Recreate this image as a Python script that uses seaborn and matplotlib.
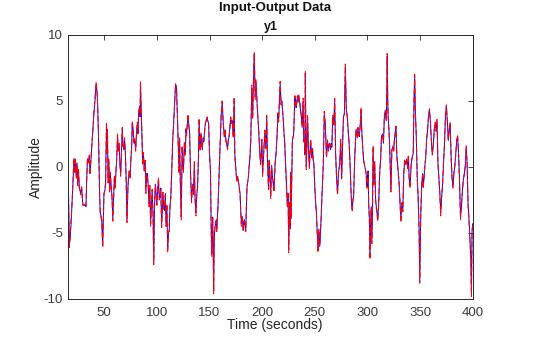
import numpy as np
import pandas as pd
import matplotlib
matplotlib.use("Agg")
import matplotlib.pyplot as plt
import seaborn as sns

# Sample times (s)
time_s = [
    16.0, 16.8, 17.5, 18.5, 19.5, 20.7, 21.3, 22.0, 22.7, 23.4,
    24.1, 24.8, 25.5, 26.3, 27.5, 28.5, 29.6, 30.6, 31.6, 32.6,
    33.2, 34.0, 35.0, 35.8, 36.5, 37.7, 39.0, 40.1, 41.2, 42.2,
    43.0, 43.7, 44.6, 45.5, 46.1, 47.6, 48.5, 49.7, 50.6, 51.3,
    52.1, 52.6, 53.0, 53.6, 54.3, 55.1, 55.8, 56.6, 57.3, 58.1,
    59.6, 60.3, 61.1, 61.8, 62.6, 63.3, 64.1, 64.8, 65.6, 66.3,
    67.1, 67.8, 68.6, 69.3, 70.1, 70.8, 71.6, 72.5, 73.7, 74.5,
    75.4, 76.0, 76.6, 77.5, 78.2, 79.0, 79.8, 80.6, 81.4, 82.0,
    82.6, 83.5, 84.0, 84.4, 85.0, 85.6, 86.5, 87.2, 88.0, 88.8,
    89.5, 90.2, 91.0, 91.8, 92.5, 93.3, 94.0, 94.8, 95.5, 96.3,
    97.0, 97.7, 98.5, 99.2, 100.0, 100.8, 101.5, 102.2, 103.0, 103.7,
    104.5, 105.7, 106.4, 107.2, 108.0, 108.7, 109.5, 110.2, 111.0, 111.7,
    112.4, 113.2, 114.1, 115.0, 116.2, 117.0, 117.7, 118.6, 119.2, 120.1,
    121.0, 121.6, 122.2, 123.1, 124.0, 124.6, 125.2, 126.1, 127.0, 127.6,
    128.1, 128.9, 129.6, 130.3, 131.1, 132.0, 132.9, 133.5, 134.1, 134.8,
    135.6, 136.2, 137.1, 137.8, 138.6, 139.4, 140.1, 141.0, 141.9, 142.5,
    143.1, 143.8, 144.6, 145.3, 146.1, 147.0, 147.6, 148.4, 149.1, 150.0,
    150.9, 151.5, 152.1, 152.6, 153.0, 153.5, 153.9, 154.5, 155.1, 155.7,
    156.3, 156.9, 157.5, 158.1, 158.8, 159.6, 160.4, 161.1, 162.0, 162.9,
    163.5, 164.1, 164.8, 165.6, 166.4, 167.1, 167.8, 168.6, 169.3, 170.1,
    170.8, 171.6, 172.5, 173.4, 174.0, 175.1, 176.0, 176.8, 177.5, 178.3,
    179.0, 179.6, 180.2, 181.1, 182.0, 182.6, 183.2, 183.8, 184.4, 185.0,
    185.6, 186.8, 187.4, 188.0, 188.6, 189.2, 190.1, 191.0, 191.9, 192.5,
    193.4, 194.0, 194.6, 195.2, 195.8, 196.4, 197.0, 197.7, 198.5, 199.7,
    200.4, 201.3, 202.5, 203.5, 204.3, 205.1, 206.0, 206.6, 207.3, 208.1,
    209.0, 209.6, 210.2, 211.2, 212.3, 213.2, 214.1, 215.0, 215.6, 216.2,
    217.1, 218.0, 218.6, 219.2, 220.1, 220.7, 221.3, 222.2, 223.1, 224.0,
    224.6, 225.2, 226.0, 226.5, 227.0, 227.5, 228.1, 228.7, 229.9, 230.5,
    231.1, 231.7, 232.3, 232.9, 233.5, 234.1, 234.7, 235.3, 235.9, 236.5,
    237.1, 238.0, 238.9, 239.5, 240.1, 240.6, 241.0, 241.5, 241.9, 242.5,
    243.1, 244.0, 244.9, 245.5, 246.1, 247.0, 247.9, 248.5, 249.1, 250.0,
    250.9, 251.5, 252.1, 253.0, 253.9, 254.5, 255.1, 256.0, 256.9, 257.5,
    258.1, 259.0, 259.9, 260.5, 261.1, 262.0, 262.9, 263.5, 264.1, 265.0,
    265.6, 266.2, 267.1, 268.0, 268.9, 269.8, 270.7, 271.6, 272.5, 273.7,
    274.6, 275.5, 276.3, 277.2, 278.1, 279.0, 279.9, 280.8, 281.7, 282.6,
    283.5, 284.4, 285.0, 285.6, 286.2, 286.8, 287.4, 288.0, 289.2, 290.4,
    291.0, 291.6, 292.2, 292.8, 293.4, 294.0, 294.6, 295.2, 296.4, 297.6,
    298.8, 299.4, 300.0, 300.6, 301.2, 301.8, 302.4, 303.0, 303.6, 304.2,
    304.8, 305.4, 306.0, 306.9, 307.8, 308.9, 309.8, 310.7, 311.6, 312.5,
    313.4, 314.3, 315.2, 316.1, 317.0, 317.9, 318.4, 318.8, 319.3, 319.7,
    320.5, 321.4, 322.3, 323.2, 324.1, 325.0, 325.6, 326.2, 327.1, 328.0,
    329.2, 330.1, 331.0, 331.8, 332.7, 333.6, 334.5, 335.4, 336.3, 337.2,
    338.1, 338.9, 339.6, 340.5, 341.1, 341.7, 342.6, 343.5, 344.3, 344.9,
    345.5, 346.4, 347.3, 348.2, 349.1, 349.7, 350.2, 350.6, 351.5, 352.4,
    353.0, 353.6, 354.5, 355.4, 356.2, 357.1, 358.0, 358.9, 359.8, 360.7,
    361.6, 362.5, 363.4, 364.3, 365.2, 366.1, 367.0, 367.9, 368.8, 369.6,
    370.5, 371.4, 372.3, 373.2, 374.1, 375.0, 375.9, 376.8, 377.7, 378.6,
    379.5, 380.4, 381.3, 382.1, 383.0, 383.9, 384.8, 385.7, 386.6, 387.5,
    388.4, 389.3, 390.2, 391.1, 392.0, 392.9, 393.8, 394.7, 395.6, 396.4,
    397.3, 398.2, 398.8, 399.4, 400.0,
]

# Measured output y1 (blue, solid)
measured = [
    -2.0, -5.9, -5.5, -4.2, -2.5, -0.3, 0.6, -0.4, 0.4, -0.8,
    0.3, -1.2, -0.3, -1.5, -2.0, -1.6, -2.8, -2.9, -2.9, -3.0,
    -1.3, 0.6, 0.4, 0.8, -0.5, 1.0, 2.5, 4.0, 5.0, 6.3,
    5.8, 4.8, 2.0, -1.8, -3.4, -4.0, -6.0, -2.0, -1.8, -1.0,
    3.3, 1.2, 2.8, -1.0, 0.5, -1.8, -0.6, -1.5, -2.2, -3.9,
    -0.8, -1.5, -0.3, 0.6, 2.3, 1.3, 1.7, 0.3, -0.5, 1.0,
    2.9, 1.6, 1.3, 2.0, 1.0, -1.0, -4.0, -1.5, -0.3, -0.8,
    0.8, 1.5, 3.3, 2.8, 1.8, 2.0, 1.3, 2.5, 3.3, 2.6,
    4.0, 4.6, 3.8, 6.3, 4.5, 2.8, 0.3, 1.0, -0.3, 0.4,
    -1.8, -0.6, -0.5, -1.6, -2.8, -1.5, -4.3, -3.0, -1.8, -3.5,
    -7.2, -3.0, -1.3, -2.0, -2.8, -1.6, -1.0, -2.3, -2.3, -1.6,
    -4.4, -2.0, -3.0, -3.3, -2.0, -4.3, -3.0, -6.3, -5.0, -4.8,
    -3.0, -2.3, -0.3, 2.0, 3.8, 5.0, 6.2, 6.1, 4.5, 2.3,
    -0.3, 2.0, -1.0, -3.8, 1.5, 0.3, -0.3, 1.8, 1.0, 2.8,
    2.5, 3.2, 3.9, 3.2, 2.5, -0.5, -2.5, -1.8, -1.3, -2.0,
    0.3, -2.3, -3.5, -2.2, -1.5, 0.5, 3.5, 1.3, 2.5, 1.8,
    1.3, 2.2, 1.9, 2.8, 3.3, 3.6, 3.7, 3.5, 3.3, 1.0,
    -0.3, -4.3, -6.6, -4.8, -3.8, -6.5, -9.4, -5.3, -4.6, -4.3,
    -4.0, -4.8, -3.8, -2.8, -1.2, 0.8, 2.5, 4.0, 4.9, 3.5,
    2.8, 2.3, 2.8, 2.0, 1.7, 1.4, 2.0, 2.3, 3.0, 3.7,
    3.4, 3.5, 2.3, 5.1, 1.0, -0.3, -1.0, -0.8, -1.1, -1.6,
    -2.0, -3.2, -4.3, -3.8, -4.8, -4.2, -4.0, -4.5, -4.8, -3.0,
    -1.5, -0.8, -0.2, 0.3, 1.0, 2.0, 6.0, 3.8, 7.1, 8.6,
    5.3, 6.5, 5.8, 4.8, 4.0, 3.2, 2.3, 1.0, 0.3, 2.0,
    -0.5, 0.8, 2.6, 1.5, 3.8, 0.3, -1.5, 0.5, -0.5, -2.2,
    0.0, -0.6, -1.0, -1.8, 0.3, 1.0, 2.3, 4.0, 3.5, 4.7,
    6.3, 4.8, 5.0, 4.5, 3.5, 2.6, 2.0, 0.3, -1.5, -3.0,
    -2.0, -6.3, -2.8, -4.5, -0.5, -3.8, -1.0, 2.0, 2.5, 3.8,
    5.3, 4.6, 4.5, 5.0, 5.3, 5.0, 5.4, 5.0, 4.8, 4.2,
    4.0, 3.0, 5.0, 2.0, 2.0, 1.0, 7.1, 2.5, 0.0, 1.6,
    3.8, 1.3, 0.0, 1.2, 2.0, 0.8, 1.3, 0.5, 0.3, -1.5,
    -2.8, -3.4, -4.5, -6.3, -4.8, -6.0, -5.6, -3.8, -2.0, -1.0,
    0.3, 4.0, 3.3, 2.0, 0.8, 2.0, 1.3, 1.6, 1.8, 1.3,
    1.8, 1.5, 3.8, 3.3, 5.0, 1.0, -0.8, -2.0, -0.5, 0.3,
    2.0, -0.8, 1.5, 3.8, 4.0, 7.6, 4.5, 3.8, 2.8, 1.8,
    0.3, -1.8, -2.8, -3.3, -2.5, -2.3, -0.8, 0.8, 2.8, 2.3,
    2.9, 2.5, 2.3, 2.8, 3.5, 4.4, 2.8, 1.8, 0.5, 0.0,
    -0.5, -1.5, -1.3, -0.3, -2.8, -3.8, -6.8, -4.5, -3.0, -5.6,
    -3.5, 1.5, -1.3, 0.3, -2.5, -3.3, -4.0, -2.8, -0.5, 0.5,
    2.3, 2.5, 1.8, 3.8, 4.3, 3.5, 5.5, 8.4, 5.0, 3.8,
    2.8, 0.8, -1.8, 1.3, 1.5, 1.3, 2.0, 2.5, 3.0, 0.8,
    -0.3, -1.3, -2.8, -4.0, -2.8, -3.3, -0.5, 0.5, 0.3, 0.5,
    0.0, 0.8, -0.8, -1.5, -0.5, 0.3, 0.8, 1.0, 5.3, 6.8,
    4.3, 2.3, -0.8, -2.3, -4.8, -8.6, -6.0, -3.8, -1.5, -0.5,
    -1.5, -1.0, 0.0, 0.8, 2.0, 2.8, 3.8, 4.3, 3.5, 2.0,
    1.0, 1.5, 2.8, 3.3, 2.8, 3.5, 0.3, -0.8, -2.0, -3.5,
    -2.3, -1.3, 0.3, 1.8, 3.8, 4.6, 3.5, 2.0, 2.8, 3.3,
    0.8, -0.8, -1.5, -0.5, 0.0, 1.0, 2.0, 2.3, 1.0, -1.0,
    -3.8, -3.0, -1.8, -1.0, -0.5, 0.0, 1.5, 0.3, -2.8, -3.8,
    -5.3, -6.8, -9.6, -4.8, -4.3,
]

# Simulated model output (red, dashed)
simulated = [
    -2.2, -6.1, -5.3, -4.0, -2.6, -0.1, 0.7, -0.5, 0.6, -0.9,
    0.2, -1.4, -0.2, -1.6, -2.1, -1.5, -2.9, -2.9, -2.8, -3.0,
    -1.2, 0.7, 0.3, 0.9, -0.6, 1.1, 2.6, 4.1, 5.2, 6.4,
    5.9, 4.6, 2.1, -1.9, -3.5, -4.1, -6.1, -2.1, -1.7, -1.2,
    3.4, 1.0, 2.9, -1.2, 0.6, -1.9, -0.4, -1.6, -2.3, -4.1,
    -0.7, -1.6, -0.2, 0.5, 2.5, 1.2, 1.8, 0.2, -0.7, 1.1,
    3.0, 1.4, 1.4, 2.2, 0.9, -1.2, -4.2, -1.4, -0.2, -0.9,
    0.9, 1.4, 3.5, 2.6, 1.9, 2.2, 1.2, 2.6, 3.4, 2.5,
    4.2, 4.5, 3.9, 6.5, 4.3, 2.9, 0.1, 1.1, -0.4, 0.5,
    -2.0, -0.5, -0.7, -1.5, -3.0, -1.4, -4.5, -2.9, -1.7, -3.7,
    -7.4, -2.8, -1.4, -2.1, -2.9, -1.5, -0.8, -2.5, -2.2, -1.7,
    -4.6, -1.9, -3.2, -3.1, -2.1, -4.5, -2.8, -6.5, -4.9, -4.9,
    -2.9, -2.4, -0.1, 2.1, 3.7, 5.1, 6.3, 6.0, 4.6, 2.2,
    -0.5, 2.2, -1.2, -4.0, 1.6, 0.2, -0.4, 1.9, 0.9, 2.9,
    2.4, 3.3, 4.0, 3.1, 2.6, -0.7, -2.7, -1.7, -1.4, -2.1,
    0.4, -2.5, -3.7, -2.1, -1.6, 0.6, 3.7, 1.2, 2.6, 1.7,
    1.4, 2.1, 2.0, 2.7, 3.4, 3.5, 3.8, 3.4, 3.4, 0.8,
    -0.2, -4.5, -6.8, -4.7, -3.9, -6.7, -9.6, -5.1, -4.7, -4.2,
    -4.1, -4.9, -3.7, -2.9, -1.1, 0.9, 2.4, 4.1, 5.0, 3.4,
    2.9, 2.2, 2.9, 1.9, 1.8, 1.3, 2.1, 2.4, 2.9, 3.8,
    3.3, 3.6, 2.2, 5.3, 0.8, -0.4, -1.1, -0.7, -1.2, -1.7,
    -2.1, -3.3, -4.5, -3.7, -4.9, -4.1, -4.1, -4.6, -4.9, -2.9,
    -1.4, -0.9, -0.1, 0.4, 1.1, 2.1, 6.2, 3.7, 7.3, 8.7,
    5.1, 6.6, 5.7, 4.9, 3.9, 3.3, 2.2, 1.1, 0.2, 2.1,
    -0.7, 0.9, 2.8, 1.4, 3.9, 0.1, -1.7, 0.6, -0.6, -2.4,
    0.1, -0.7, -1.1, -1.9, 0.2, 1.1, 2.4, 4.1, 3.4, 4.8,
    6.5, 4.7, 5.1, 4.4, 3.6, 2.5, 2.1, 0.2, -1.6, -3.1,
    -1.9, -6.5, -2.7, -4.7, -0.4, -3.9, -1.1, 2.1, 2.4, 3.9,
    5.4, 4.5, 4.6, 4.9, 5.4, 4.9, 5.5, 5.1, 4.7, 4.3,
    3.9, 3.1, 5.2, 1.9, 2.1, 0.9, 7.3, 2.4, -0.2, 1.7,
    3.9, 1.2, -0.1, 1.3, 2.1, 0.7, 1.4, 0.4, 0.2, -1.6,
    -2.9, -3.5, -4.6, -6.5, -4.7, -6.1, -5.5, -3.9, -1.9, -1.1,
    0.4, 4.2, 3.2, 2.1, 0.7, 2.1, 1.2, 1.7, 1.7, 1.4,
    1.7, 1.6, 3.9, 3.2, 5.2, 0.9, -0.9, -2.1, -0.4, 0.2,
    2.1, -0.9, 1.6, 3.7, 4.1, 7.8, 4.4, 3.9, 2.7, 1.9,
    0.2, -1.9, -2.9, -3.4, -2.4, -2.4, -0.7, 0.9, 2.9, 2.2,
    3.0, 2.4, 2.4, 2.7, 3.6, 4.5, 2.7, 1.9, 0.4, 0.1,
    -0.6, -1.6, -1.2, -0.4, -2.9, -3.9, -7.0, -4.4, -3.1, -5.8,
    -3.4, 1.6, -1.4, 0.4, -2.6, -3.4, -4.1, -2.7, -0.6, 0.6,
    2.4, 2.4, 1.9, 3.9, 4.2, 3.6, 5.6, 8.6, 4.9, 3.9,
    2.7, 0.9, -1.9, 1.2, 1.6, 1.2, 2.1, 2.4, 3.1, 0.7,
    -0.4, -1.2, -2.9, -4.2, -2.7, -3.4, -0.6, 0.6, 0.2, 0.6,
    -0.1, 0.9, -0.9, -1.6, -0.4, 0.4, 0.7, 1.1, 5.4, 7.0,
    4.2, 2.4, -0.9, -2.4, -4.9, -8.8, -5.9, -3.9, -1.4, -0.6,
    -1.6, -0.9, 0.1, 0.7, 2.1, 2.7, 3.9, 4.4, 3.4, 2.1,
    0.9, 1.6, 2.7, 3.4, 2.7, 3.6, 0.2, -0.9, -2.1, -3.7,
    -2.2, -1.4, 0.4, 1.7, 3.9, 4.7, 3.4, 2.1, 2.7, 3.4,
    0.7, -0.9, -1.6, -0.4, 0.1, 0.9, 2.1, 2.4, 0.9, -1.1,
    -4.0, -2.9, -1.9, -0.9, -0.6, 0.1, 1.6, 0.2, -2.9, -3.9,
    -5.5, -7.0, -9.8, -4.9, -4.4,
]

x_ticks = [50, 100, 150, 200, 250, 300, 350, 400]
y_ticks = [-10, -5, 0, 5, 10]

sns.set_theme(style="white")
plt.rcParams["font.family"] = ["Liberation Sans", "DejaVu Sans"]
plt.rcParams["axes.unicode_minus"] = False

ink = "#262626"

df = pd.DataFrame({"Time": time_s, "measured": measured, "simulated": simulated})

fig = plt.figure(figsize=(5.6, 3.37), dpi=100)
fig.patch.set_facecolor("white")
ax = fig.add_axes([0.1223, 0.1128, 0.7218, 0.7834])
ax.set_facecolor("white")

sns.lineplot(data=df, x="Time", y="measured", ax=ax, color="#0000ff",
             linewidth=0.7, estimator=None, sort=False)
sns.lineplot(data=df, x="Time", y="simulated", ax=ax, color="#ff0000",
             linewidth=0.75, estimator=None, sort=False)
ax.lines[-1].set_dashes((5.5, 2.5))

ax.set_xlim(16, 400)
ax.set_ylim(-10, 10)
ax.set_xticks(x_ticks)
ax.set_yticks(y_ticks)
ax.set_xlabel("")
ax.set_ylabel("")

for side in ["left", "right", "top", "bottom"]:
    ax.spines[side].set_visible(True)
    ax.spines[side].set_color(ink)
    ax.spines[side].set_linewidth(0.7)

ax.tick_params(axis="both", which="major", direction="in", length=3.5,
               width=0.6, color=ink, labelcolor="#3a3a3a", labelsize=9.5,
               top=True, right=True)
ax.tick_params(axis="x", pad=6)
ax.tick_params(axis="y", pad=4)

fig.text(0.491, 0.976, "Input-Output Data", ha="center", va="center",
         fontsize=9.5, fontweight="bold", color="#111111")
fig.text(0.483, 0.921, "y1", ha="center", va="center",
         fontsize=9, fontweight="bold", color="#111111")
fig.text(0.491, 0.036, "Time (seconds)", ha="center", va="center",
         fontsize=10, color=ink)
fig.text(0.064, 0.504, "Amplitude", ha="center", va="center",
         rotation=90, fontsize=10, color=ink)

fig.savefig("out.png", dpi=100, facecolor="white")
